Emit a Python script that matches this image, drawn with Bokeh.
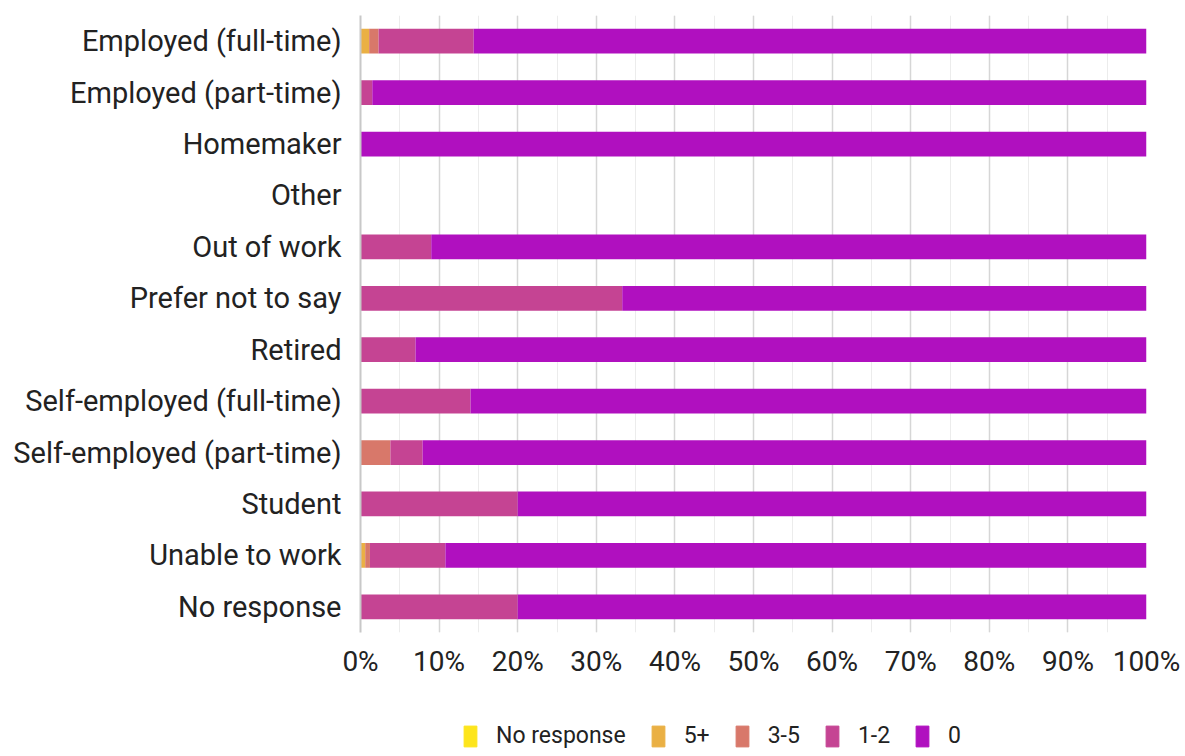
from bokeh.plotting import figure
from bokeh.models import (FactorRange, Range1d, SingleIntervalTicker, PrintfTickFormatter,
                          Legend, LegendItem, ColumnDataSource)
from bokeh.layouts import column
from bokeh.embed import file_html
from bokeh.resources import INLINE

categories = ["Employed (full-time)", "Employed (part-time)", "Homemaker", "Other",
              "Out of work", "Prefer not to say", "Retired", "Self-employed (full-time)",
              "Self-employed (part-time)", "Student", "Unable to work", "No response"]
series_names = ["No response", "5+", "3-5", "1-2", "0"]
no_resp    = [0, 0, 0, 0, 0, 0, 0, 0, 0, 0, 0, 0]
five_plus  = [1.1, 0, 0, 0, 0, 0, 0, 0, 0, 0, 0.6, 0]
three_five = [1.2, 0, 0, 0, 0, 0, 0, 0, 3.8, 0, 0.6, 0]
one_two    = [12.1, 1.5, 0, 0, 9.0, 33.3, 7.0, 14.0, 4.1, 20.0, 9.6, 20.0]
zero       = [85.6, 98.5, 100.0, 0, 91.0, 66.7, 93.0, 86.0, 92.1, 80.0, 89.2, 80.0]
colors = ["#FDE51C", "#EAB044", "#D8786A", "#C54493", "#B010BF"]

FONT = "Roboto"
TXT = "#222222"

src = ColumnDataSource(dict(cat=categories, nr=no_resp, f=five_plus, t=three_five, o=one_two, z=zero))

p = figure(width=1185, height=700, output_backend="svg", toolbar_location=None,
           y_range=FactorRange(*reversed(categories), range_padding=0),
           x_range=Range1d(0, 100),
           min_border_left=360, min_border_right=39, min_border_top=15, min_border_bottom=68)
p.outline_line_color = None

renderers = p.hbar_stack(["nr", "f", "t", "o", "z"], y="cat", height=0.48, color=colors,
                         source=src, line_color=None)

ax = p.xaxis[0]
ax.ticker = SingleIntervalTicker(interval=10, num_minor_ticks=2)
ax.formatter = PrintfTickFormatter(format="%d%%")
ax.axis_line_color = None
ax.major_tick_line_color = None
ax.minor_tick_line_color = None
ax.major_tick_out = 0
ax.minor_tick_out = 0
ax.major_label_standoff = 12
ax.major_label_text_font = FONT
ax.major_label_text_font_size = "28px"
ax.major_label_text_color = TXT

ay = p.yaxis[0]
ay.axis_line_color = "#c8c8c8"
ay.axis_line_width = 2
ay.major_tick_line_color = None
ay.minor_tick_line_color = None
ay.major_tick_out = 0
ay.minor_tick_out = 0
ay.major_label_standoff = 19
ay.major_label_text_font = FONT
ay.major_label_text_font_size = "29px"
ay.major_label_text_color = TXT

p.ygrid.grid_line_color = None
p.xgrid.grid_line_color = "#d6d6d6"
p.xgrid.grid_line_width = 1.5
p.xgrid.minor_grid_line_color = "#ececec"
p.xgrid.minor_grid_line_width = 1

# legend strip below the chart (its frame is aligned with the chart's frame)
lg = figure(width=1185, height=56, output_backend="svg", toolbar_location=None,
            x_range=Range1d(0, 1), y_range=Range1d(0, 1), min_border=0)
lg.outline_line_color = None
lg.axis.visible = False
lg.grid.visible = False
dummies = [lg.vbar(x=[-5], top=[0], width=0.1, color=c) for c in colors]
items = [LegendItem(label=n, renderers=[r]) for n, r in zip(series_names, dummies)]
legend = Legend(items=items, orientation="horizontal", location=(102, 7),
                glyph_width=16, glyph_height=26, label_height=26, label_standoff=18,
                spacing=24, padding=0, margin=0, border_line_color=None,
                background_fill_alpha=0, label_text_font=FONT,
                label_text_font_size="23px", label_text_color=TXT)
lg.add_layout(legend, "center")

layout = column(p, lg, spacing=0)
open("out.html", "w").write(file_html(layout, INLINE))
